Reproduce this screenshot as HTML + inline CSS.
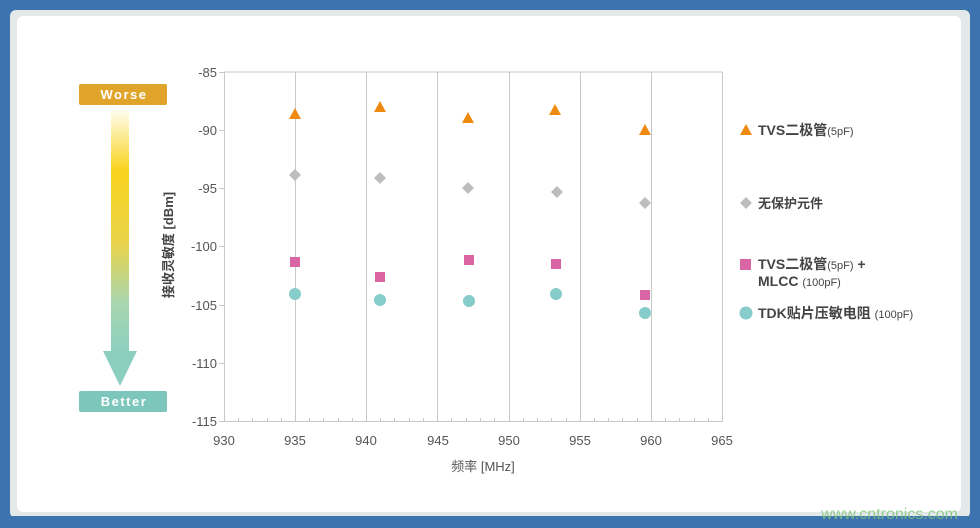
<!DOCTYPE html>
<html><head><meta charset="utf-8"><style>
body{margin:0;width:980px;height:528px;overflow:hidden;background:#3d74b0;font-family:"Liberation Sans","Noto Sans CJK SC",sans-serif}
</style></head><body>
<svg width="980" height="528" xmlns="http://www.w3.org/2000/svg" style="position:absolute;left:0;top:0">
<defs>
<linearGradient id="g" x1="0" y1="0" x2="0" y2="1">
<stop offset="0" stop-color="#fffdf0"/><stop offset="0.25" stop-color="#f9d31c"/><stop offset="0.55" stop-color="#e8d34a"/><stop offset="0.8" stop-color="#a8d6b0"/><stop offset="1" stop-color="#8ccfbf"/>
</linearGradient>
</defs>
<rect x="0" y="0" width="980" height="528" fill="#3d74b0"/>
<rect x="10" y="10" width="960" height="508" rx="6" fill="#e3e8e8"/>
<rect x="17" y="16" width="944" height="496" rx="6" fill="#ffffff"/>
<rect x="0" y="516" width="980" height="12" fill="#3d74b0"/>
<rect x="79" y="84" width="88" height="21" rx="2" fill="#e0a42a"/>
<text x="124" y="99" font-size="13" font-weight="bold" fill="#fff" text-anchor="middle" letter-spacing="1.5">Worse</text>
<rect x="111" y="110" width="18" height="242" fill="url(#g)"/>
<polygon points="103,351 137,351 120,386" fill="#8ccfbf"/>
<rect x="79" y="391" width="88" height="21" rx="2" fill="#7cc6bb"/>
<text x="124" y="406" font-size="13" font-weight="bold" fill="#fff" text-anchor="middle" letter-spacing="1.5">Better</text>
<g stroke="#c8c8c8" stroke-width="1">
<line x1="224.5" y1="72" x2="722.5" y2="72"/>
<line x1="722.5" y1="72" x2="722.5" y2="421"/>
<line x1="224.5" y1="72" x2="224.5" y2="421"/>
<line x1="224" y1="421.5" x2="723" y2="421.5"/>
<line x1="295.5" y1="72" x2="295.5" y2="421"/>
<line x1="366.5" y1="72" x2="366.5" y2="421"/>
<line x1="437.5" y1="72" x2="437.5" y2="421"/>
<line x1="509.5" y1="72" x2="509.5" y2="421"/>
<line x1="580.5" y1="72" x2="580.5" y2="421"/>
<line x1="651.5" y1="72" x2="651.5" y2="421"/>
</g>
<g stroke="#c8c8c8">
<line x1="219" y1="72.5" x2="224" y2="72.5"/><line x1="219" y1="130.5" x2="224" y2="130.5"/><line x1="219" y1="188.5" x2="224" y2="188.5"/><line x1="219" y1="246.5" x2="224" y2="246.5"/><line x1="219" y1="305.5" x2="224" y2="305.5"/><line x1="219" y1="363.5" x2="224" y2="363.5"/><line x1="219" y1="421.5" x2="224" y2="421.5"/>
</g>
<path stroke="#c8c8c8" d="M238.5 418v4M252.5 418v4M267.5 418v4M281.5 418v4M309.5 418v4M323.5 418v4M338.5 418v4M352.5 418v4M380.5 418v4M394.5 418v4M409.5 418v4M423.5 418v4M451.5 418v4M466.5 418v4M480.5 418v4M494.5 418v4M523.5 418v4M537.5 418v4M551.5 418v4M566.5 418v4M594.5 418v4M608.5 418v4M622.5 418v4M637.5 418v4M665.5 418v4M679.5 418v4M694.5 418v4M708.5 418v4"/>
<g font-size="13" fill="#555" text-anchor="end">
<text x="217" y="77">-85</text><text x="217" y="135">-90</text><text x="217" y="193">-95</text><text x="217" y="251">-100</text><text x="217" y="310">-105</text><text x="217" y="368">-110</text><text x="217" y="426">-115</text>
</g>
<g font-size="13" fill="#555" text-anchor="middle">
<text x="224" y="445">930</text><text x="295" y="445">935</text><text x="366" y="445">940</text><text x="438" y="445">945</text><text x="509" y="445">950</text><text x="580" y="445">955</text><text x="651" y="445">960</text><text x="722" y="445">965</text>
</g>
<text x="483" y="471" font-size="13" fill="#555" text-anchor="middle">频率 [MHz]</text>
<text transform="translate(173,245) rotate(-90)" font-size="13" font-weight="bold" fill="#444" text-anchor="middle">接收灵敏度 [dBm]</text>
<g fill="#ee8a10">
<polygon points="295,108 301,119 289,119"/><polygon points="380,101 386,112 374,112"/><polygon points="468,112 474,123 462,123"/><polygon points="555,104 561,115 549,115"/><polygon points="645,124 651,135 639,135"/>
</g>
<g fill="#bdbdbd">
<polygon points="295,169 301,175 295,181 289,175"/><polygon points="380,172 386,178 380,184 374,178"/><polygon points="468,182 474,188 468,194 462,188"/><polygon points="557,186 563,192 557,198 551,192"/><polygon points="645,197 651,203 645,209 639,203"/>
</g>
<g fill="#d965a5">
<rect x="290" y="257" width="10" height="10"/><rect x="375" y="272" width="10" height="10"/><rect x="464" y="255" width="10" height="10"/><rect x="551" y="259" width="10" height="10"/><rect x="640" y="290" width="10" height="10"/>
</g>
<g fill="#86ccca">
<circle cx="295" cy="294" r="6"/><circle cx="380" cy="300" r="6"/><circle cx="469" cy="301" r="6"/><circle cx="556" cy="294" r="6"/><circle cx="645" cy="313" r="6"/>
</g>
<polygon points="746,124 752,135 740,135" fill="#ee8a10"/>
<text x="758" y="135" font-size="14" fill="#444" font-weight="bold">TVS二极管<tspan font-size="11" font-weight="normal">(5pF)</tspan></text>
<polygon points="746,197 752,203 746,209 740,203" fill="#bdbdbd"/>
<text x="758" y="208" font-size="13" fill="#444" font-weight="bold">无保护元件</text>
<rect x="740" y="259" width="11" height="11" fill="#d965a5"/>
<text x="758" y="269" font-size="14" fill="#444" font-weight="bold">TVS二极管<tspan font-size="11" font-weight="normal">(5pF)</tspan> +</text>
<text x="758" y="286" font-size="14" fill="#444" font-weight="bold">MLCC <tspan font-size="11" font-weight="normal">(100pF)</tspan></text>
<circle cx="746" cy="313" r="6.5" fill="#86ccca"/>
<text x="758" y="318" font-size="14" fill="#444" font-weight="bold">TDK贴片压敏电阻 <tspan font-size="11" font-weight="normal">(100pF)</tspan></text>
<text x="958" y="519" font-size="16" fill="#7dc47a" text-anchor="end" opacity="0.8">www.cntronics.com</text>
</svg>
</body></html>
